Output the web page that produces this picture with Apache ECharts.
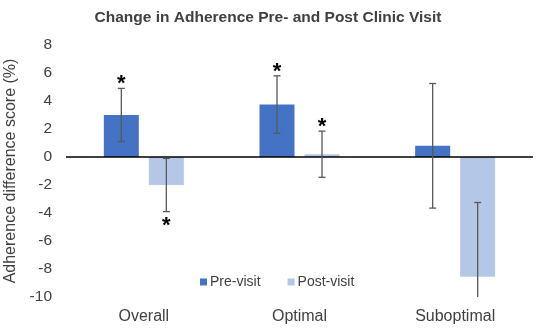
<!DOCTYPE html>
<html>
<head>
<meta charset="utf-8">
<script src="https://cdn.jsdelivr.net/npm/echarts@6/dist/echarts.min.js"></script>
<style>
html, body { margin: 0; padding: 0; background: #fff; }
#chart { width: 536px; height: 330px; }
</style>
</head>
<body>
<div id="chart"></div>
<script>
// 数据
var categories = ['Overall', 'Optimal', 'Suboptimal'];
var preValues = [3.0, 3.75, 0.8];
var postValues = [-2.0, 0.2, -8.55];
var preErr = [1.9, 2.05, 4.45];
var postErr = [1.9, 1.65, 5.3];
// 星号位置: 'top' / 'bottom' / ''
var preStar = ['top', 'top', ''];
var postStar = ['bottom', 'top', ''];
var yTicks = { min: -10, max: 8, interval: 2 };

var barWidth = 35;
var barGapPx = 10;
var myChart = echarts.init(document.getElementById('chart'));

function errorSeries(name, values, errs, stars, side) {
    var data = [];
    for (var i = 0; i < values.length; i++) {
        data.push([i, values[i], errs[i]]);
    }
    return {
        name: name + '-err',
        type: 'custom',
        z: 5,
        silent: true,
        data: data,
        renderItem: function (params, api) {
            var idx = api.value(0);
            var v = api.value(1);
            var e = api.value(2);
            var star = stars[idx];
            var offset = side * (barWidth + barGapPx) / 2;
            var hi = v + e;
            var lo = v - e;
            var loClip = lo < yTicks.min;
            if (loClip) lo = yTicks.min;
            var pHi = api.coord([idx, hi]);
            var pLo = api.coord([idx, lo]);
            var x = pHi[0] + offset;
            var style = { stroke: '#595959', lineWidth: 1.3 };
            var children = [
                { type: 'line', shape: { x1: x, y1: pHi[1], x2: x, y2: pLo[1] }, style: style },
                { type: 'line', shape: { x1: x - 3.5, y1: pHi[1], x2: x + 3.5, y2: pHi[1] }, style: style }
            ];
            if (!loClip) {
                children.push({ type: 'line', shape: { x1: x - 3.5, y1: pLo[1], x2: x + 3.5, y2: pLo[1] }, style: style });
            }
            if (star) {
                children.push({
                    type: 'text',
                    style: {
                        text: '*',
                        x: x,
                        y: star == 'top' ? pHi[1] - 4 : pLo[1] + 14,
                        align: 'center',
                        verticalAlign: 'middle',
                        fontSize: 22,
                        fontWeight: 'bold',
                        fontFamily: 'Liberation Sans',
                        fill: '#000'
                    }
                });
            }
            return { type: 'group', children: children };
        }
    };
}

myChart.setOption({
    animation: false,
    title: {
        text: 'Change in Adherence Pre- and Post Clinic Visit',
        left: 'center',
        top: 5,
        textStyle: {
            fontFamily: 'Liberation Sans',
            fontSize: 15.5,
            fontWeight: 'bold',
            color: '#404040'
        }
    },
    legend: {
        data: ['Pre-visit', 'Post-visit'],
        left: 195,
        top: 270,
        itemWidth: 7,
        itemHeight: 7,
        itemGap: 27,
        icon: 'rect',
        textStyle: {
            fontFamily: 'Liberation Sans',
            fontSize: 14,
            color: '#404040',
            padding: [0, 0, 0, -2]
        }
    },
    grid: {
        left: 66,
        right: 3,
        top: 45,
        bottom: 33,
        outerBoundsMode: 'none'
    },
    xAxis: {
        type: 'category',
        data: categories,
        axisLine: { show: false, onZero: false },
        axisTick: { show: false },
        axisLabel: {
            margin: 12,
            fontFamily: 'Liberation Sans',
            fontSize: 16,
            color: '#404040'
        }
    },
    yAxis: {
        type: 'value',
        min: yTicks.min,
        max: yTicks.max,
        interval: yTicks.interval,
        name: 'Adherence difference score (%)',
        nameLocation: 'middle',
        nameGap: 42,
        nameTextStyle: {
            fontFamily: 'Liberation Sans',
            fontSize: 16,
            color: '#404040'
        },
        axisLine: { show: false },
        axisTick: { show: false },
        splitLine: { show: false },
        axisLabel: {
            margin: 14,
            fontFamily: 'Liberation Sans',
            fontSize: 15.5,
            color: '#404040'
        }
    },
    series: [
        {
            name: 'Pre-visit',
            type: 'bar',
            barWidth: barWidth,
            barGap: (barGapPx / barWidth * 100) + '%',
            itemStyle: { color: '#4472C4' },
            data: preValues,
            markLine: {
                silent: true,
                symbol: 'none',
                label: { show: false },
                lineStyle: { color: '#000', width: 1.5, type: 'solid' },
                data: [{ yAxis: 0 }]
            }
        },
        {
            name: 'Post-visit',
            type: 'bar',
            barWidth: barWidth,
            itemStyle: { color: '#B4C7E7' },
            data: postValues
        },
        errorSeries('Pre-visit', preValues, preErr, preStar, -1),
        errorSeries('Post-visit', postValues, postErr, postStar, 1)
    ]
});
</script>
</body>
</html>
